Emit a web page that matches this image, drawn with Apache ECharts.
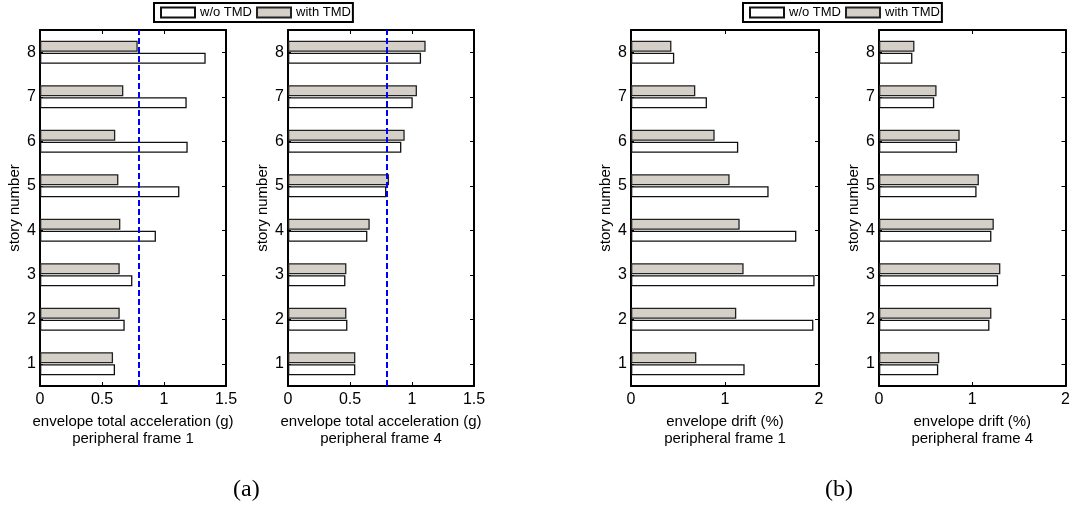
<!DOCTYPE html>
<html>
<head>
<meta charset="utf-8">
<script src="https://cdn.jsdelivr.net/npm/echarts@6/dist/echarts.min.js"></script>
<style>
  html, body { margin: 0; padding: 0; background: #fff; }
  #chart { width: 1073px; height: 506px; }
</style>
</head>
<body>
<div id="chart"></div>
<script>
// ---- data (stories 1..8, bottom to top) ----
const stories = ['1', '2', '3', '4', '5', '6', '7', '8'];
const seriesNames = ['w/o TMD', 'with TMD'];

const accFrame1Without = [0.605, 0.683, 0.745, 0.935, 1.124, 1.191, 1.183, 1.336];
const accFrame1With    = [0.589, 0.643, 0.643, 0.648, 0.632, 0.607, 0.672, 0.788];
const accFrame4Without = [0.543, 0.479, 0.463, 0.640, 0.793, 0.914, 1.006, 1.073];
const accFrame4With    = [0.543, 0.471, 0.471, 0.659, 0.815, 0.941, 1.040, 1.110];

const driftFrame1Without = [1.209, 1.940, 1.953, 1.759, 1.464, 1.141, 0.808, 0.460];
const driftFrame1With    = [0.695, 1.120, 1.198, 1.156, 1.049, 0.890, 0.684, 0.430];
const driftFrame4Without = [0.635, 1.184, 1.277, 1.205, 1.046, 0.837, 0.592, 0.358];
const driftFrame4With    = [0.646, 1.205, 1.301, 1.231, 1.071, 0.865, 0.617, 0.380];

const accAxis = { min: 0, max: 1.5, interval: 0.5 };
const driftAxis = { min: 0, max: 2, interval: 1 };
const accLimit = 0.8;

const accName1 = 'envelope total acceleration (g)\nperipheral frame 1';
const accName4 = 'envelope total acceleration (g)\nperipheral frame 4';
const driftName1 = 'envelope drift (%)\nperipheral frame 1';
const driftName4 = 'envelope drift (%)\nperipheral frame 4';
const yName = 'story number';

// ---- layout ----
const FONT = '"Liberation Sans", Arial, sans-serif';
const panels = [
  { left: 40,  width: 186, axis: accAxis,   name: accName1,   without: accFrame1Without,   withT: accFrame1With,   limit: true },
  { left: 288, width: 186, axis: accAxis,   name: accName4,   without: accFrame4Without,   withT: accFrame4With,   limit: true },
  { left: 631, width: 188, axis: driftAxis, name: driftName1, without: driftFrame1Without, withT: driftFrame1With, limit: false },
  { left: 879, width: 188, axis: driftAxis, name: driftName4, without: driftFrame4Without, withT: driftFrame4With, limit: false }
];
const TOP = 30, HEIGHT = 356;

const grid = [], xAxis = [], yAxis = [], series = [];
const axisLine = { show: true, onZero: false, lineStyle: { color: '#000', width: 2 } };
const tick = (len) => ({ show: true, inside: true, length: len, lineStyle: { color: '#000', width: 1 } });

panels.forEach((p, i) => {
  grid.push({ left: p.left, top: TOP, width: p.width, height: HEIGHT, containLabel: false });
  // bottom value axis
  xAxis.push({
    gridIndex: i, type: 'value', position: 'bottom',
    min: p.axis.min, max: p.axis.max, interval: p.axis.interval,
    axisLine, axisTick: tick(4), splitLine: { show: false },
    axisLabel: { color: '#000', fontSize: 16, fontFamily: FONT, margin: 6 },
    name: p.name, nameLocation: 'middle', nameGap: 23,
    nameTextStyle: { color: '#000', fontSize: 15, fontFamily: FONT, lineHeight: 17, align: 'center' }
  });
  // top value axis (box + ticks)
  xAxis.push({
    gridIndex: i, type: 'value', position: 'top',
    min: p.axis.min, max: p.axis.max, interval: p.axis.interval,
    axisLine, axisTick: tick(4), splitLine: { show: false }, axisLabel: { show: false }
  });
  // left category axis
  yAxis.push({
    gridIndex: i, type: 'category', position: 'left', data: stories,
    axisLine, axisTick: Object.assign(tick(3), { alignWithLabel: true }),
    axisLabel: { color: '#000', fontSize: 16, fontFamily: FONT, margin: 4 },
    splitLine: { show: false },
    name: yName, nameLocation: 'middle', nameGap: 18, nameRotate: 90,
    nameTextStyle: { color: '#000', fontSize: 15, fontFamily: FONT }
  });
  // right category axis (box + ticks)
  yAxis.push({
    gridIndex: i, type: 'category', position: 'right', data: stories,
    axisLine, axisTick: Object.assign(tick(4), { alignWithLabel: true }),
    axisLabel: { show: false }, splitLine: { show: false }
  });

  const withSeries = {
    name: 'with TMD', type: 'bar', xAxisIndex: 2 * i, yAxisIndex: 2 * i,
    data: p.withT, barWidth: 11, barGap: '10%',
    itemStyle: { color: '#d4d0c8', borderColor: '#222', borderWidth: 1.3 }
  };
  if (p.limit) {
    withSeries.markLine = {
      silent: true, symbol: 'none', animation: false,
      label: { show: false },
      lineStyle: { color: '#0000ff', type: [6, 3], width: 2 },
      data: [{ xAxis: accLimit }]
    };
  }
  series.push(withSeries);
  series.push({
    name: 'w/o TMD', type: 'bar', xAxisIndex: 2 * i, yAxisIndex: 2 * i,
    data: p.without, barWidth: 11, barGap: '10%',
    itemStyle: { color: '#ffffff', borderColor: '#111', borderWidth: 1.3 }
  });
});

const legendBase = {
  top: 3, orient: 'horizontal', data: seriesNames, icon: 'rect',
  itemWidth: 34, itemHeight: 10, itemGap: 4,
  borderColor: '#000', borderWidth: 2, borderRadius: 0,
  padding: [3, 2, 3, 6], selectedMode: false,
  textStyle: { color: '#000', fontSize: 13, fontFamily: FONT }
};

const option = {
  animation: false,
  backgroundColor: '#fff',
  grid, xAxis, yAxis, series,
  legend: [
    Object.assign({}, legendBase, { left: 154 }),
    Object.assign({}, legendBase, { left: 743 })
  ],
  graphic: [
    { type: 'text', left: 247 - 14, top: 478, style: { text: '(a)', font: '24px "Liberation Serif", "Times New Roman", serif', fill: '#000' } },
    { type: 'text', left: 839 - 14, top: 478, style: { text: '(b)', font: '24px "Liberation Serif", "Times New Roman", serif', fill: '#000' } }
  ]
};

const chart = echarts.init(document.getElementById('chart'), null, { renderer: 'canvas' });
chart.setOption(option);
</script>
</body>
</html>
